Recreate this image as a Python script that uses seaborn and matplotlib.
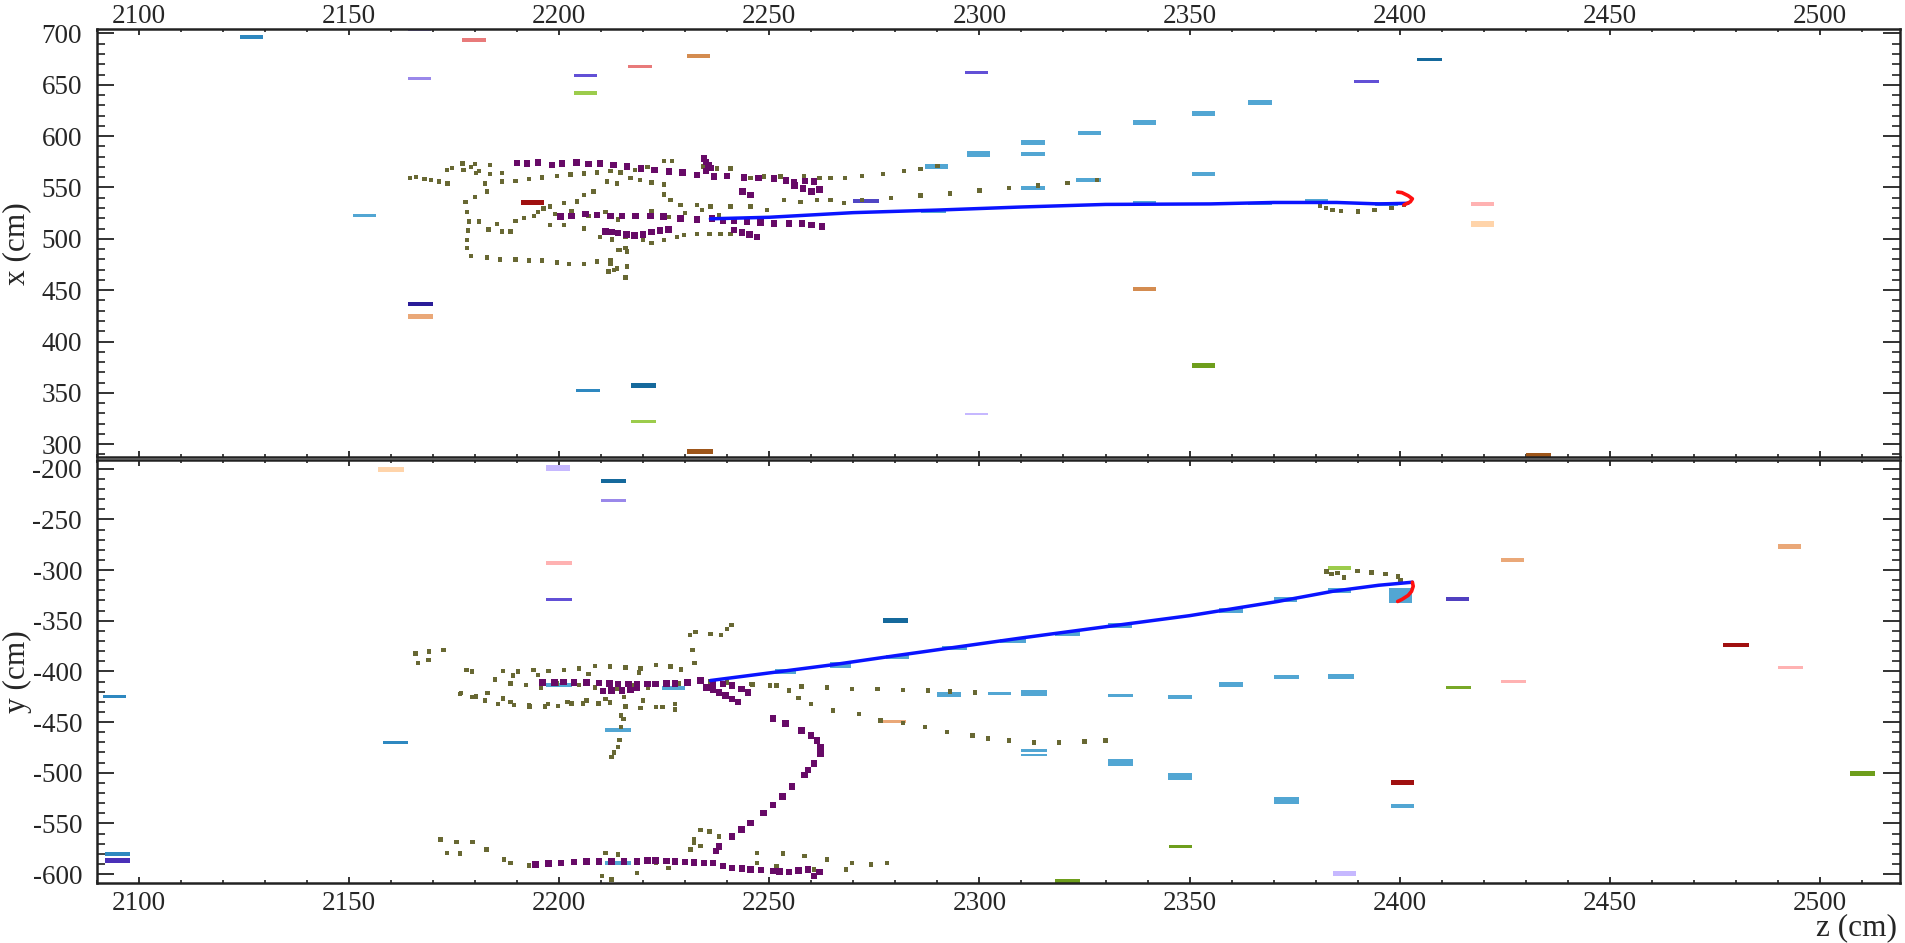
import matplotlib
matplotlib.use("Agg")
import matplotlib.pyplot as plt
import seaborn as sns
from matplotlib.ticker import MultipleLocator

# ---------------- palette of hit colours ----------------
SKY = "#52a6d3"
STEEL = "#2e88c0"
TEAL = "#15699c"
LAV = "#9a88ea"
LAVL = "#c6b8ff"
SLATE = "#6250d6"
NAVY = "#2a1c98"
SALMON = "#e87a7a"
PINK = "#ffb2b2"
PEACH = "#ffd4aa"
SAND = "#eaa878"
PERU = "#d48c50"
BROWN = "#9e561a"
DKRED = "#a01010"
YG = "#9ccc4c"
OGREEN = "#6e9e1c"

# ---------------- x-z view: hit segments ----------------
xz_z0 = [2124, 2164, 2177, 2164, 2216.5, 2203.5, 2203.5, 2230.5, 2151, 2191,
         2164, 2164, 2204, 2217, 2217, 2230.5, 2296.5, 2296.5, 2297, 2310,
         2310, 2323.5, 2336.5, 2350.5, 2364, 2350.5, 2310, 2323, 2336.5, 2364,
         2377.5, 2394, 2287, 2270, 2389, 2404, 2417, 2417, 2336.5, 2350.5,
         2430, 2286]
xz_z1 = [2129.5, 2169.5, 2182.5, 2169.5, 2222, 2209, 2209, 2236, 2156.5, 2196.5,
         2170, 2170, 2209.8, 2223, 2223, 2236.5, 2302, 2302, 2302.5, 2315.5,
         2315.5, 2329, 2342, 2356, 2369.5, 2356, 2315.5, 2329, 2342, 2369.5,
         2383, 2399.5, 2292.5, 2276, 2395, 2410, 2422.5, 2422.5, 2342, 2356,
         2436, 2292]
xz_x = [696.5, 703.5, 694, 656, 668, 659, 642, 678, 523, 535.5,
        436.5, 424.5, 352, 357, 322, 293, 329.5, 662, 582.5, 594,
        582.5, 603, 613.5, 622, 633, 563, 549.5, 557, 535.5, 534.5,
        537, 534, 570.5, 537, 653.5, 674.5, 534, 514.5, 451, 376.5,
        289, 527]
xz_h = [3.5, 3, 4, 3, 3, 3.5, 3.5, 3.5, 3, 4.5,
        4.5, 4.5, 3, 4.5, 3, 4.5, 2.5, 3, 6, 4.5,
        3.5, 4.5, 4.5, 4.5, 4.5, 3.5, 3, 3.5, 3, 3,
        3.5, 3.5, 4.5, 4, 3, 3.5, 3.5, 5, 4.5, 5,
        4.5, 3]
xz_col = [STEEL, LAV, SALMON, LAV, SALMON, SLATE, YG, PERU, SKY, DKRED,
          NAVY, SAND, STEEL, TEAL, YG, BROWN, LAVL, SLATE, SKY, SKY,
          SKY, SKY, SKY, SKY, SKY, SKY, SKY, SKY, SKY, SKY,
          SKY, SKY, SKY, "#5046c4", SLATE, TEAL, PINK, PEACH, PERU, OGREEN,
          BROWN, SKY]

# ---------------- x-z view: shower hits (olive) ----------------
xz_olive_z = [2164.5, 2166, 2168, 2169.5, 2171.5, 2173.5,
              2173.3, 2174.5, 2177, 2177.3, 2179, 2180, 2180.3, 2181, 2183.6, 2183.6, 2186.4,
              2182.4, 2182.8, 2180, 2177.7, 2178.1, 2178.5, 2178.3, 2178.1, 2178.1, 2179, 2182.8,
              2186, 2189.6, 2192.8, 2196, 2199.5, 2202.3, 2205.9, 2209, 2212.2, 2214,
              2181, 2183.2, 2185.2, 2186.4, 2188.4, 2189.6, 2191.6, 2194,
              2186.4, 2189.6, 2192.8, 2196, 2199.5, 2202.7, 2205.9, 2209, 2212.2, 2214.6, 2218,
              2221, 2224.9, 2226.9,
              2196.3, 2197.9, 2201.1, 2204.3, 2205.9, 2208.2, 2211.4, 2213.8, 2217, 2219.3, 2222, 2225,
              2197.9, 2201.1, 2205.9, 2209.8, 2212.6, 2215.8, 2220, 2222, 2224.9, 2228.1, 2229.7,
              2232.8, 2235.8, 2238.4, 2240.8,
              2214.4, 2215.8, 2216.2, 2212.2, 2213.8, 2216.2, 2211.8, 2213, 2215.8,
              2195, 2199, 2203, 2207, 2211, 2214, 2218, 2222, 2226, 2230, 2234, 2238,
              2234.4, 2237.6, 2240.8, 2245.5, 2248.7, 2252.7, 2258.2, 2262, 2264.6, 2268,
              2224.9, 2226.5, 2228.9, 2232.8, 2236, 2240.8, 2245.5, 2249.5, 2253.5, 2257.4, 2261.4,
              2264.6, 2267.8,
              2272, 2277, 2282, 2286, 2290,
              2272, 2279, 2286, 2293, 2300, 2307, 2314, 2321, 2328,
              2381, 2382.5, 2384, 2386, 2390, 2394, 2398, 2401]
xz_olive_x = [559, 560, 558, 557.5, 556, 554,
              567, 569, 573.5, 567, 570, 573, 564, 566, 572, 563, 564,
              554, 546, 541, 536, 526, 517, 508, 499, 491, 483, 482,
              480, 480, 479, 479, 477, 475.5, 475.5, 478, 479.5, 489,
              517, 509, 514.4, 507, 507, 517.3, 520, 522,
              556, 556.6, 558.3, 559.6, 561.2, 562.5, 563.8, 564.7, 566, 564.4, 567,
              570, 575.8, 575.8,
              529.7, 531.3, 534.6, 536.2, 542.7, 546, 555.7, 554, 559, 557.3, 555, 553,
              513.4, 513.4, 510.2, 501.5, 499.5, 502, 499, 496, 499, 501.7, 503.7,
              504.7, 504.7, 504.7, 504.7,
              489.2, 490.8, 487.5, 476, 471, 473, 468, 469.6, 462.5,
              526, 524, 527, 522, 526, 519, 523, 527, 521, 525, 528, 523,
              570.3, 568.6, 568.6, 559, 560.5, 560.5, 560.5, 559, 559, 559,
              543, 538, 533, 533, 531.3, 531.3, 531.3, 528, 537.8, 536, 537.8,
              537.8, 534.6,
              561, 563, 566, 568, 571,
              538, 540, 542, 544, 547, 549.5, 552, 554.5, 557,
              532, 530, 528, 527, 526.5, 528, 530, 533]

# ---------------- x-z view: reconstructed hits (purple) ----------------
xz_purple_z = [2190, 2192.4, 2195, 2198.3, 2200.7, 2204.1, 2207, 2209.7, 2213, 2216.2,
               2219.5, 2222.7, 2226.1, 2229.4, 2232.8, 2236.8, 2240, 2244, 2247.5, 2251.1,
               2255.9, 2258.5, 2260.6,
               2234.5, 2235, 2235.5, 2236, 2235,
               2200.3, 2203, 2206.3, 2209, 2212.2, 2215, 2218.2, 2221.7, 2224.9, 2228.9,
               2232.8, 2236.4, 2239, 2241.6, 2244.7, 2247.9, 2251.1, 2254.7, 2257.8, 2260,
               2262.6,
               2211, 2212.5, 2214, 2216, 2218, 2220, 2222, 2224, 2226,
               2241.6, 2243.5, 2245.3, 2247.1,
               2243.6, 2245.5, 2254, 2256, 2258, 2260, 2262]
xz_purple_x = [574, 573.5, 574.5, 571.9, 573.5, 574.5, 573, 573.5, 571.9, 570.3,
               568.6, 567, 565.4, 564.4, 562.2, 560.5, 561.2, 559.5, 559, 558.9,
               555, 556.5, 555.7,
               578, 575, 572, 569, 566,
               521.6, 522, 524.2, 523.2, 522.2, 522, 522.2, 522.2, 521.6, 519.9,
               519, 519.9, 518, 517.3, 516.7, 516, 515.1, 515.1, 515.1, 513.5,
               511.8,
               507, 506.5, 505.5, 504, 503, 504, 506.5, 508, 509,
               508.6, 506, 504, 502,
               546, 542.7, 557, 552, 549, 546, 548]

# ---------------- x-z view: muon track and end cluster ----------------
xz_trk_z = [2236, 2250, 2270, 2290, 2310, 2330, 2355, 2370, 2385, 2395, 2402]
xz_trk_x = [519.5, 521, 525.5, 528, 531, 533.5, 534, 535.4, 535.4, 534, 534.6]
xz_red_z = [2401, 2402.5, 2403, 2402, 2400.5, 2399.5]
xz_red_x = [533, 536, 539, 542, 545, 545.5]

# ---------------- y-z view: hit segments ----------------
yz_z0 = [2157, 2197, 2210, 2210, 2197, 2197, 2091.5, 2158, 2092, 2092,
         2211, 2197, 2211, 2276.5, 2290, 2277, 2302, 2310, 2310, 2310,
         2330.7, 2357, 2370, 2383, 2397.5, 2370, 2383, 2357, 2330.7, 2344.8,
         2330.7, 2344.8, 2397.8, 2370, 2398, 2345, 2384, 2383, 2411, 2424,
         2490, 2477, 2490, 2424, 2411, 2507, 2318, 2251.3, 2264.5, 2277.7,
         2224.4, 2291, 2305, 2318]
yz_z1 = [2163, 2202.5, 2216, 2216, 2203, 2203, 2097, 2164, 2098, 2098,
         2217, 2203, 2217, 2282.5, 2295.6, 2283, 2307.5, 2316, 2316, 2316,
         2336.2, 2362.7, 2375.6, 2388.5, 2403, 2376, 2389, 2362.7, 2336.5, 2350.5,
         2336.5, 2350.5, 2403.3, 2376, 2403.5, 2350.5, 2389.5, 2388.5, 2416.5, 2429.5,
         2495.5, 2483, 2496, 2430, 2417, 2513, 2324, 2256.3, 2269.5, 2283.2,
         2229.9, 2297, 2311, 2324]
yz_y = [-201, -199.5, -212, -231.5, -293, -329, -424.7, -470, -580, -587,
        -458, -413.5, -589, -449, -423, -349.5, -421.5, -421, -478, -482.5,
        -355, -339.5, -328.6, -320, -325.3, -405.3, -404.6, -412.5, -423.7, -425.3,
        -489.8, -503.6, -509.5, -527.6, -533, -572.7, -599, -297.7, -329, -290,
        -277, -373.7, -396.4, -410, -416, -500.3, -607, -400.3, -393.7, -385.4,
        -416.7, -377, -370, -363]
yz_h = [4.5, 6, 3.5, 3.5, 3.5, 3.5, 3.5, 3.5, 4, 5,
        3.5, 4, 3.5, 3, 4.5, 4.5, 3, 6, 2.5, 2.5,
        5, 5, 5, 5, 14.5, 3.5, 5, 5, 3.5, 3.5,
        7, 7, 4.5, 7, 3.5, 3.5, 5, 4, 4, 3.5,
        5, 3.5, 3, 3, 3.5, 5, 4, 5, 5, 4,
        4, 4, 4, 4]
yz_col = [PEACH, LAVL, TEAL, LAV, PINK, SLATE, STEEL, STEEL, STEEL, "#4a30b8",
          SKY, SKY, SKY, SAND, SKY, TEAL, SKY, SKY, SKY, SKY,
          SKY, SKY, SKY, SKY, SKY, SKY, SKY, SKY, SKY, SKY,
          SKY, SKY, DKRED, SKY, SKY, OGREEN, LAVL, YG, "#5040c0", SAND,
          SAND, DKRED, PINK, PINK, "#78a828", OGREEN, OGREEN, SKY, SKY, SKY,
          SKY, SKY, SKY, SKY]

# ---------------- y-z view: shower hits (olive) ----------------
yz_olive_z = [2165.8, 2169.1, 2172.5, 2168.9, 2166.4, 2178, 2179.3,
              2186.6, 2190.3, 2193.9, 2197.5, 2201.2, 2204.8, 2208.5, 2212.1, 2215.8, 2219.4,
              2223, 2226.5, 2229, 2189, 2195, 2207, 2219,
              2176.4, 2179.4, 2182.4, 2185.4, 2188.4, 2192.9, 2197.4, 2202, 2206.5, 2211,
              2215.5, 2220, 2224.6, 2227.6,
              2176.6, 2180.2, 2183, 2186.6, 2189.3, 2193, 2196.6, 2199.8, 2203, 2205.7,
              2209.4, 2212.1, 2215.8, 2219.4, 2223, 2227.6,
              2184.8, 2188.4, 2192.1, 2195.7, 2199.4, 2204.8, 2208.5, 2213.9, 2217.6, 2221.2,
              2225.8, 2228.5,
              2236, 2240, 2245.6, 2251.7, 2257.7, 2263.7, 2269.7, 2275.8, 2281.8, 2287.8,
              2293, 2299,
              2246, 2250.2, 2254.7, 2257, 2260, 2265.2, 2271.3, 2276.5, 2281.8, 2287.1,
              2292.3, 2298.4, 2302.1, 2307, 2313, 2319, 2325, 2330,
              2232.2, 2231.7, 2231.2, 2232.5, 2236, 2238.5, 2240, 2241,
              2214.8, 2215.3, 2214.8, 2214.4, 2214, 2213, 2212.5,
              2171.8, 2175.6, 2179.4, 2182.7, 2173.3, 2176.4, 2186.9, 2188.4, 2192.9, 2233.6,
              2235.8, 2232.1, 2232.1, 2233.6, 2238.1, 2231.3, 2247.1, 2253.2, 2258.4, 2263.7,
              2269.7, 2274.2, 2278, 2247.1, 2251.7, 2260.7, 2268.2, 2211, 2214, 2210.2,
              2212.5, 2223, 2226, 2218.5,
              2382.6, 2383.8, 2385.2, 2386.8, 2389.9, 2393.3, 2396.6, 2399.6, 2400.2]
yz_olive_y = [-382.2, -380.5, -378.9, -388.7, -392, -398.6, -400.2,
              -399.3, -400.2, -398.6, -399.3, -398.6, -397, -394.7, -395.3, -396, -397,
              -393.7, -395, -398, -404, -403.5, -402.5, -401,
              -422.2, -425.5, -428.8, -432, -430.4, -433.7, -432, -430.4, -428.8, -427.1,
              -425.5, -428.8, -435.3, -432,
              -421.6, -424.9, -421.6, -426.6, -433.1, -434.8, -434.8, -434.1, -431.5, -431.5,
              -431.5, -430.8, -434.8, -436.4, -435.4, -437.4,
              -407.8, -411.8, -413.4, -415.7, -411.8, -413.4, -415.7, -416.7, -413.4, -415.7,
              -413.4, -411.8,
              -410, -411, -412.4, -414, -415, -415.7, -417.3, -417.3, -418.3, -419,
              -420, -421,
              -413, -414, -418.9, -426, -432, -438.6, -441.8, -448.4, -451, -455,
              -459.8, -463.1, -466.3, -468, -470, -470, -469, -468,
              -392, -378.9, -364, -361, -363, -364, -358, -354,
              -443.5, -447, -454.9, -467.7, -474.5, -480, -484.3,
              -566, -568.6, -568.6, -575.8, -579, -579.7, -585.6, -588.9, -591.5, -556.2,
              -557.8, -566, -569.3, -572.5, -562.7, -575.8, -579, -579.7, -582.4, -585.6,
              -588.9, -590.5, -588.9, -588.9, -592.2, -595.4, -595.4, -579, -580.7, -602,
              -605.2, -588.9, -593.8, -598.7,
              -301.6, -304, -303, -307.2, -300.7, -302.3, -304, -306.3, -310.5]

# ---------------- y-z view: reconstructed hits (purple) ----------------
yz_purple_z = [2196, 2198.9, 2201, 2203.5, 2206.5, 2209.5, 2212, 2214, 2216.5, 2218.5,
               2221, 2223, 2225.5, 2227.6, 2230.6, 2233.6, 2236.6, 2239, 2241.1, 2243.4,
               2244.9,
               2210.5, 2212.5, 2215, 2217, 2218.5,
               2235.1, 2236.6, 2238.1, 2239.6, 2241.1, 2242.6,
               2250.9, 2253.9, 2257.7, 2259.9, 2261.4, 2262.2, 2262.2, 2260.7, 2259.2, 2258.4,
               2255.4, 2253.2, 2250.9, 2248.6, 2245.6, 2243.4, 2241.1, 2238.1, 2237.3,
               2194.4, 2197.5, 2200.5, 2203.5, 2206.5, 2209.5, 2212.5, 2215.5, 2218.5, 2221,
               2223, 2225.5, 2227.6, 2230, 2232.1, 2234.5, 2236.6, 2239, 2241.1, 2243.5,
               2245.6, 2248, 2250.9, 2252.5, 2254.7, 2257, 2259.2, 2260.7, 2262]
yz_purple_y = [-411, -410.8, -410.5, -410.8, -411, -411.4, -412, -412.4, -412.4, -412.4,
               -412.6, -412.4, -412, -412, -410.8, -409.2, -410.8, -412.4, -414, -417.3,
               -420.6,
               -419.5, -419, -418.6, -418.3, -415.7,
               -415.7, -418, -420.6, -424, -427.1, -430.4,
               -446.7, -451.6, -458.2, -463, -468, -474.5, -481, -490.8, -497.4, -502.3,
               -513.7, -523.5, -531.6, -539.8, -549.6, -556.1, -562.7, -572.5, -577.3,
               -590.5, -589.7, -588.9, -588, -587.3, -587.3, -587.3, -587.3, -587.3, -586.8,
               -586.6, -587, -587.3, -588, -588.6, -588.8, -588.9, -592, -593.8, -594.5,
               -595.4, -596, -597.1, -597.5, -598, -596.5, -595.4, -601.9, -598]

# ---------------- y-z view: muon track and end cluster ----------------
yz_trk_z = [2236, 2250, 2265, 2280, 2292, 2310, 2329, 2350, 2371, 2384, 2395, 2403]
yz_trk_y = [-409, -401.5, -393.5, -384.5, -377.5, -367, -356.5, -345, -331, -321, -315, -312]
yz_red_z = [2403, 2403.2, 2402.8, 2402, 2400.5, 2399.5]
yz_red_y = [-312, -316, -321, -325, -329, -331]

Z_RANGE = (2090, 2519)
X_RANGE = (287.3, 704)
Y_RANGE = (-608.5, -191.7)

OLIVE = "#686833"
PURPLE = "#670a67"
BLUE = "#0a14ff"
RED = "#ff1010"

sns.set_style("ticks")
plt.rcParams["font.family"] = ["Liberation Serif", "DejaVu Serif"]
plt.rcParams["axes.unicode_minus"] = False

fig = plt.figure(figsize=(19.05, 9.43), dpi=100)
ax_top = fig.add_axes([0.05076, 0.5151, 0.9466, 0.4538])
ax_bot = fig.add_axes([0.05076, 0.0639, 0.9466, 0.4480])


def draw_view(ax, z0, z1, v, h, col, oz, ov, pz, pv, tz, tv, rz, rv):
    widths = [b - a for a, b in zip(z0, z1)]
    ax.barh(v, widths, left=z0, height=h, color=col, linewidth=0, zorder=2)
    sns.scatterplot(x=oz, y=ov, ax=ax, marker="s", s=10, color=OLIVE,
                    edgecolor="none", linewidth=0, legend=False, zorder=3)
    sns.scatterplot(x=pz, y=pv, ax=ax, marker="s", s=22, color=PURPLE,
                    edgecolor="none", linewidth=0, legend=False, zorder=4)
    sns.lineplot(x=tz, y=tv, ax=ax, sort=False, estimator=None, color=BLUE,
                 linewidth=2.5, zorder=5)
    sns.lineplot(x=rz, y=rv, ax=ax, sort=False, estimator=None, color=RED,
                 linewidth=2.6, zorder=6)


draw_view(ax_top, xz_z0, xz_z1, xz_x, xz_h, xz_col,
          xz_olive_z, xz_olive_x, xz_purple_z, xz_purple_x,
          xz_trk_z, xz_trk_x, xz_red_z, xz_red_x)
draw_view(ax_bot, yz_z0, yz_z1, yz_y, yz_h, yz_col,
          yz_olive_z, yz_olive_y, yz_purple_z, yz_purple_y,
          yz_trk_z, yz_trk_y, yz_red_z, yz_red_y)

ax_top.set_ylim(*X_RANGE)
ax_bot.set_ylim(*Y_RANGE)

for ax in (ax_top, ax_bot):
    ax.set_xlim(*Z_RANGE)
    ax.xaxis.set_major_locator(MultipleLocator(50))
    ax.xaxis.set_minor_locator(MultipleLocator(10))
    ax.yaxis.set_major_locator(MultipleLocator(50))
    ax.yaxis.set_minor_locator(MultipleLocator(10))
    ax.tick_params(which="both", direction="in", top=True, bottom=True,
                   left=True, right=True, color="#222222")
    ax.tick_params(axis="y", which="major", length=12, width=1.3,
                   labelsize=19.5, pad=10.5)
    ax.tick_params(axis="y", which="minor", length=6, width=1.2)
    ax.tick_params(axis="x", which="major", length=4, width=1.3, labelsize=19.5)
    ax.tick_params(axis="x", which="minor", length=2.2, width=1.2)
    for sp in ax.spines.values():
        sp.set_linewidth(1.8)
        sp.set_color("#222222")
    ax.set_facecolor("white")

ax_top.tick_params(axis="x", labeltop=True, labelbottom=False, pad=0)
ax_bot.tick_params(axis="x", labeltop=False, labelbottom=True, pad=6)

ax_top.set_xlabel("")
for ax, name in ((ax_top, "x (cm)"), (ax_bot, "y (cm)")):
    ax.set_ylabel(name, fontsize=22.5)
    ax.yaxis.label.set_ha("center")
    ax.yaxis.label.set_va("center")
    ax.yaxis.set_label_coords(-0.0442, 0.5)
ax_bot.set_xlabel("z (cm)", fontsize=22.5)
ax_bot.xaxis.label.set_ha("right")
ax_bot.xaxis.label.set_va("bottom")
ax_bot.xaxis.set_label_coords(0.9985, -0.1404)

fig.savefig("out.png", dpi=100, facecolor="white")
